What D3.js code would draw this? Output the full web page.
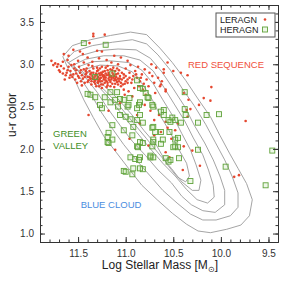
<!doctype html>
<html>
<head>
  <meta charset="utf8"/>
  <style>
    body { margin: 0; background: #fff; }
    text { font-family: "Liberation Sans", Arial, sans-serif; }
  </style>
</head>
<body>
  <svg width="286" height="283"></svg>
  <script src="https://d3js.org/d3.v7.min.js"></script>
  <script>
    // tick values
    var massTicks = [11.5, 11.0, 10.5, 10.0, 9.5];
    var colorTicks = [1.0, 1.5, 2.0, 2.5, 3.0, 3.5];

    // density contours, outermost first, [log mass, u-r]
    var contour1 = [[11.66,3.09],[11.56,3.22],[11.37,3.29],[11.16,3.34],[10.95,3.38],[10.78,3.35],[10.64,3.19],[10.51,3.02],[10.37,2.81],[10.24,2.59],[10.11,2.38],[10.01,2.16],[9.91,1.95],[9.82,1.77],[9.73,1.59],[9.67,1.40],[9.70,1.21],[9.79,1.10],[9.94,1.05],[10.11,1.01],[10.24,1.03],[10.36,1.11],[10.51,1.24],[10.67,1.40],[10.83,1.57],[10.97,1.77],[11.10,1.96],[11.23,2.15],[11.34,2.37],[11.44,2.58],[11.52,2.78],[11.61,2.96]];
    var contour2 = [[11.63,3.05],[11.54,3.15],[11.35,3.22],[11.14,3.26],[10.93,3.29],[10.78,3.24],[10.66,3.11],[10.53,2.93],[10.41,2.72],[10.28,2.51],[10.16,2.29],[10.06,2.08],[9.96,1.87],[9.88,1.67],[9.82,1.48],[9.82,1.31],[9.90,1.21],[10.05,1.16],[10.19,1.16],[10.32,1.23],[10.46,1.36],[10.61,1.51],[10.75,1.69],[10.89,1.87],[11.02,2.05],[11.14,2.24],[11.26,2.44],[11.36,2.64],[11.46,2.81],[11.56,2.96]];
    var contour3 = [[11.60,3.02],[11.48,3.10],[11.29,3.16],[11.08,3.18],[10.89,3.17],[10.74,3.07],[10.62,2.91],[10.50,2.71],[10.38,2.50],[10.28,2.28],[10.17,2.07],[10.08,1.87],[10.01,1.68],[9.96,1.51],[9.96,1.34],[10.06,1.25],[10.19,1.27],[10.31,1.34],[10.41,1.44],[10.52,1.60],[10.66,1.75],[10.79,1.92],[10.93,2.09],[11.06,2.28],[11.19,2.48],[11.30,2.67],[11.42,2.84],[11.52,2.94]];
    var contour4 = [[11.55,2.99],[11.42,3.06],[11.23,3.10],[11.02,3.10],[10.85,3.05],[10.71,2.92],[10.60,2.73],[10.49,2.53],[10.38,2.33],[10.29,2.13],[10.19,1.93],[10.13,1.75],[10.08,1.57],[10.07,1.43],[10.14,1.36],[10.25,1.40],[10.36,1.52],[10.48,1.68],[10.61,1.83],[10.74,2.00],[10.88,2.19],[11.02,2.38],[11.15,2.57],[11.28,2.73],[11.41,2.86],[11.51,2.94]];
    var contour5 = [[11.50,2.97],[11.35,3.03],[11.16,3.04],[10.97,3.02],[10.83,2.93],[10.71,2.77],[10.61,2.58],[10.50,2.38],[10.41,2.18],[10.32,1.99],[10.26,1.81],[10.21,1.63],[10.23,1.51],[10.30,1.51],[10.41,1.61],[10.52,1.77],[10.65,1.94],[10.78,2.12],[10.92,2.31],[11.06,2.50],[11.20,2.67],[11.33,2.81],[11.45,2.91]];
    var contour6 = [[11.43,2.94],[11.27,2.99],[11.08,2.98],[10.93,2.91],[10.82,2.76],[10.72,2.58],[10.63,2.38],[10.53,2.19],[10.45,2.01],[10.36,1.83],[10.33,1.68],[10.37,1.61],[10.46,1.67],[10.56,1.81],[10.68,2.05],[10.81,2.22],[10.94,2.41],[11.08,2.59],[11.22,2.74],[11.34,2.86]];

    // LERAGN (red dots)
    var leragn = [
      [11.32,2.86],[11.28,2.82],[11.25,2.88],[11.21,2.84],[11.18,2.90],[11.15,2.86],[11.12,2.81],[11.30,2.92],[11.35,2.83],[11.22,2.78],
      [11.19,2.93],[11.27,2.95],[11.10,2.88],[11.08,2.83],[11.14,2.77],[11.24,2.91],[11.33,2.79],[11.37,2.88],[11.20,2.87],[11.17,2.81],
      [11.29,2.85],[11.26,2.76],[11.11,2.92],[11.06,2.86],[11.38,2.92],[11.36,2.76],[11.23,2.82],[11.16,2.94],[11.13,2.84],[11.31,2.89],
      [11.09,2.79],[11.27,2.80],[11.34,2.95],[11.21,2.96],[11.04,2.90],[11.19,2.75],[11.12,2.73],[11.25,2.72],[11.31,2.74],[11.39,2.81],
      [11.05,2.78],[11.02,2.84],[11.28,2.89],[11.17,2.85],[11.23,2.87],[11.14,2.90],[11.35,2.86],[11.29,2.78],[11.07,2.93],[11.00,2.80],
      [11.40,2.85],[11.20,2.80],[11.26,2.84],[11.32,2.81],[11.10,2.85],[11.16,2.79],[11.24,2.86],[11.22,2.92],[11.08,2.89],[11.30,2.96],
      [11.18,2.83],[11.13,2.88],[11.36,2.90],[11.27,2.87],[11.21,2.89],[11.03,2.76],[11.33,2.84],[11.15,2.82],[11.11,2.77],[11.25,2.80],
      [11.30,2.83],[11.26,2.90],[11.22,2.85],[11.18,2.88],[11.14,2.93],[11.10,2.81],[11.06,2.83],[11.02,2.88],[11.34,2.90],[11.38,2.85],
      [11.42,2.92],[11.46,2.87],[11.40,2.79],[11.36,2.80],[11.32,2.77],[11.28,2.74],[11.24,2.76],[11.20,2.73],[11.16,2.74],[11.12,2.86],
      [11.08,2.76],[11.04,2.82],[11.00,2.86],[10.98,2.78],[10.96,2.84],[11.29,2.93],[11.25,2.97],[11.19,2.98],[11.13,2.96],[11.09,2.95],
      [11.35,2.98],[11.41,2.90],[11.47,2.93],[11.52,2.89],[11.54,2.95],[11.58,2.87],[11.61,2.93],[11.66,2.89],[11.71,3.00],[11.76,2.99],
      [11.23,2.84],[11.27,2.83],[11.31,2.87],[11.17,2.87],[11.21,2.81],[11.15,2.84],[11.33,2.82],[11.29,2.80],[11.19,2.78],[11.11,2.83],
      [11.07,2.80],[11.37,2.83],[11.43,2.85],[11.49,2.84],[11.05,2.74],[11.01,2.77],[10.93,2.82],[10.89,2.88],[10.84,2.84],[10.81,2.77],
      [11.42,2.88],[11.45,2.83],[11.48,2.90],[11.50,2.86],[11.44,2.94],[11.52,2.93],[11.55,2.88],[11.47,2.80],[11.58,2.92],[11.60,2.97],
      [11.62,2.90],[11.57,2.99],[11.65,2.95],[11.68,2.98],[11.70,2.93],[11.72,2.97],[11.74,3.01],[11.66,3.03],[11.63,2.87],[11.53,2.82],
      [11.49,2.97],[11.43,2.78],[11.41,2.95],[11.56,2.85],[11.46,2.75],[11.51,2.78],[11.59,2.84],[11.78,3.04],[11.61,3.05],[11.54,3.00],
      [11.69,2.91],[11.64,2.82],[11.39,2.99],[11.44,3.02],[11.50,3.04],
      [11.34,3.36],[11.34,3.33],[11.22,3.35],[11.38,3.25],[11.55,3.17],[11.30,3.16],[11.25,3.15],[11.45,3.12],[11.12,3.10],[11.05,3.08],
      [11.40,3.08],[11.20,3.05],[11.60,3.10],[11.48,3.15],[11.15,3.02],[10.98,3.04],[11.28,3.07],[11.65,3.12],[11.35,3.03],[11.08,3.00],
      [11.00,2.95],[10.96,2.90],[10.92,2.86],[10.98,2.82],[10.94,2.78],[10.90,2.92],[10.88,2.84],[10.85,2.80],[10.83,2.88],[10.80,2.94],
      [10.86,2.74],[10.78,2.82],[10.75,2.90],[10.72,2.86],[10.70,2.78],[10.68,2.96],[10.66,2.84],[10.64,2.74],[11.02,2.70],[10.97,2.68],
      [10.91,2.72],[10.82,2.70],[10.76,2.74],[10.73,3.00],[10.87,2.97],[10.95,2.99],[10.60,2.90],[10.62,2.80],[10.58,2.70],[10.79,2.64],
      [10.69,2.66],[10.93,2.62],[11.01,2.64],
      [10.56,3.02],[10.60,2.94],[10.50,2.92],[10.42,2.90],[10.35,2.87],[10.63,2.76],[10.58,2.68],[10.39,2.66],[10.34,2.58],[10.32,2.47],
      [10.36,2.46],[10.35,2.38],[10.23,2.52],[10.18,2.60],[10.11,2.57],[10.10,2.73],[9.74,2.33],[10.58,2.32],[10.56,2.25],[10.63,2.20],
      [10.48,2.22],[10.70,2.16],[10.39,2.03],[10.22,1.80],[9.86,1.67],[9.81,1.69],[10.40,1.75],[10.58,1.96],[10.52,2.12],[10.70,2.34],
      [10.80,2.52],[10.74,2.45],[10.88,2.40],[11.11,1.99],[11.39,2.40],[11.18,2.45],[10.96,2.12],[10.85,2.30],[10.65,2.40],[11.06,2.54],
      [10.76,2.04],[10.45,2.30],[10.30,1.98],[10.54,1.90]
    ];

    // HERAGN (green squares)
    var heragn = [
      [11.44,3.25],[11.21,3.23],[11.32,2.85],[11.14,2.89],[10.88,2.81],[10.85,2.72],[11.40,2.65],[11.37,2.64],[11.32,2.61],[11.16,2.67],
      [11.09,2.67],[11.22,2.61],[11.11,2.58],[11.02,2.58],[10.98,2.50],[10.85,2.55],[10.76,2.60],[10.79,2.66],[11.27,2.52],[11.16,2.55],
      [11.06,2.59],[10.96,2.60],[10.82,2.71],[10.77,2.61],[10.86,2.52],[10.72,2.52],[11.25,2.48],[11.08,2.50],[10.97,2.52],[11.06,2.40],
      [11.00,2.38],[10.95,2.35],[10.85,2.40],[10.88,2.34],[10.82,2.31],[10.63,2.44],[10.60,2.40],[10.72,2.25],[10.69,2.20],[10.63,2.20],
      [10.53,2.32],[10.48,2.34],[10.42,2.31],[10.37,2.40],[10.38,2.67],[10.54,2.20],[11.14,2.28],[11.02,2.22],[10.93,2.16],[11.18,2.19],
      [11.14,2.11],[11.19,2.08],[10.85,2.08],[10.82,2.07],[10.87,2.02],[10.71,2.08],[10.61,2.11],[10.48,2.11],[10.45,2.02],[10.24,2.31],
      [10.24,1.99],[10.95,1.90],[10.85,1.90],[10.86,1.87],[10.74,1.90],[10.71,1.90],[10.58,1.89],[10.53,1.87],[10.44,1.89],[10.92,1.77],
      [10.82,1.76],[11.02,1.74],[11.00,1.73],[10.32,1.62],[10.02,2.41],[10.15,2.40],[10.38,2.47],[10.51,2.37],[10.55,2.34],[10.60,2.46],
      [10.71,2.50],[10.71,2.26],[10.45,2.13],[10.71,2.11],[10.50,2.02],[10.55,1.85],[9.95,1.79],[9.53,1.57],[9.46,1.98],[10.72,2.03],
      [10.63,2.06],[10.48,2.03],[10.74,1.92],[10.92,2.26],[11.19,2.14],[10.88,2.48],[11.18,2.07],[10.90,1.88],[10.93,1.70],[10.85,1.77],
      [10.88,2.03]
    ];

    var contours = [contour1, contour2, contour3, contour4, contour5, contour6];

    var svg = d3.select('svg'),
        plotLeft = 40, plotRight = 278, plotTop = 5, plotBottom = 242;

    var x = d3.scaleLinear().domain([11.9, 9.4]).range([plotLeft, plotRight]);
    var y = d3.scaleLinear().domain([0.9, 3.7]).range([plotBottom, plotTop]);

    var red = '#e5472f', green = '#5fa23a', greenFill = 'rgba(140,200,100,0.15)';

    // contours
    var line = d3.line()
                 .x(function(d) { return x(d[0]); })
                 .y(function(d) { return y(d[1]); })
                 .curve(d3.curveLinearClosed);

    svg.append('g').selectAll('path')
       .data(contours)
       .join('path')
       .attr('d', line)
       .attr('fill', 'none')
       .attr('stroke', '#9a9a9a')
       .attr('stroke-width', 0.9);

    // red dots
    svg.append('g').selectAll('circle')
       .data(leragn)
       .join('circle')
       .attr('cx', function(d) { return x(d[0]); })
       .attr('cy', function(d) { return y(d[1]); })
       .attr('r', 1.3)
       .attr('fill', red);

    // green squares
    var sq = 5;
    svg.append('g').selectAll('rect')
       .data(heragn)
       .join('rect')
       .attr('x', function(d) { return x(d[0]) - sq / 2; })
       .attr('y', function(d) { return y(d[1]) - sq / 2; })
       .attr('width', sq)
       .attr('height', sq)
       .attr('fill', greenFill)
       .attr('stroke', green)
       .attr('stroke-width', 0.9);

    // axes: major + minor ticks on all four sides, pointing inward
    var minorX = d3.range(94, 120).map(function(v) { return v / 10; });
    var minorY = d3.range(9, 38).map(function(v) { return v / 10; });

    function styleAxis(g) {
      g.selectAll('path').attr('stroke', '#333');
      g.selectAll('line').attr('stroke', '#333');
      g.selectAll('text').attr('fill', '#333').style('font-size', '10px')
       .style('font-family', '"Liberation Sans", Arial, sans-serif');
    }

    svg.append('g').attr('transform', 'translate(0,' + plotBottom + ')')
       .call(d3.axisBottom(x).tickValues(minorX).tickSize(-2.5).tickSizeOuter(0).tickFormat(''))
       .call(styleAxis);
    svg.append('g').attr('transform', 'translate(0,' + plotBottom + ')')
       .call(d3.axisBottom(x).tickValues(massTicks).tickSize(-5).tickSizeOuter(0)
             .tickPadding(8).tickFormat(d3.format('.1f')))
       .call(styleAxis);
    svg.append('g').attr('transform', 'translate(0,' + plotTop + ')')
       .call(d3.axisTop(x).tickValues(minorX).tickSize(-2.5).tickSizeOuter(0).tickFormat(''))
       .call(styleAxis);
    svg.append('g').attr('transform', 'translate(0,' + plotTop + ')')
       .call(d3.axisTop(x).tickValues(massTicks).tickSize(-5).tickSizeOuter(0).tickFormat(''))
       .call(styleAxis);

    svg.append('g').attr('transform', 'translate(' + plotLeft + ',0)')
       .call(d3.axisLeft(y).tickValues(minorY).tickSize(-2.5).tickSizeOuter(0).tickFormat(''))
       .call(styleAxis);
    svg.append('g').attr('transform', 'translate(' + plotLeft + ',0)')
       .call(d3.axisLeft(y).tickValues(colorTicks).tickSize(-5).tickSizeOuter(0)
             .tickPadding(6).tickFormat(d3.format('.1f')))
       .call(styleAxis);
    svg.append('g').attr('transform', 'translate(' + plotRight + ',0)')
       .call(d3.axisRight(y).tickValues(minorY).tickSize(-2.5).tickSizeOuter(0).tickFormat(''))
       .call(styleAxis);
    svg.append('g').attr('transform', 'translate(' + plotRight + ',0)')
       .call(d3.axisRight(y).tickValues(colorTicks).tickSize(-5).tickSizeOuter(0).tickFormat(''))
       .call(styleAxis);

    // axis titles
    var xl = svg.append('text')
       .attr('x', 160).attr('y', 269)
       .attr('text-anchor', 'middle')
       .attr('fill', '#222')
       .style('font-size', '12px')
       .text('Log Stellar Mass [M');
    xl.append('tspan').attr('dy', 3).style('font-size', '8px').text('⊙');
    xl.append('tspan').attr('dy', -3).text(']');

    svg.append('text')
       .attr('transform', 'translate(16,115) rotate(-90)')
       .attr('text-anchor', 'middle')
       .attr('fill', '#222')
       .style('font-size', '12px')
       .text('u-r color');

    // region labels
    svg.append('text').attr('x', 226).attr('y', 68).attr('text-anchor', 'middle')
       .attr('fill', '#f0503c').style('font-size', '9.5px').text('RED SEQUENCE');
    svg.append('text').attr('x', 53).attr('y', 137)
       .attr('fill', '#3f8f1f').style('font-size', '9.5px').text('GREEN');
    svg.append('text').attr('x', 53).attr('y', 149)
       .attr('fill', '#3f8f1f').style('font-size', '9.5px').text('VALLEY');
    svg.append('text').attr('x', 111).attr('y', 208).attr('text-anchor', 'middle')
       .attr('fill', '#4a8de0').style('font-size', '9.5px').text('BLUE CLOUD');

    // legend
    var lg = svg.append('g');
    lg.append('rect').attr('x', 216).attr('y', 13).attr('width', 59).attr('height', 24)
      .attr('fill', '#fff').attr('stroke', '#555').attr('stroke-width', 1);
    lg.append('text').attr('x', 220).attr('y', 23).attr('fill', '#222')
      .style('font-size', '9px').text('LERAGN');
    lg.append('text').attr('x', 220).attr('y', 33).attr('fill', '#222')
      .style('font-size', '9px').text('HERAGN');
    lg.append('circle').attr('cx', 265).attr('cy', 19.5).attr('r', 1.3).attr('fill', red);
    lg.append('rect').attr('x', 262.5).attr('y', 27).attr('width', sq).attr('height', sq)
      .attr('fill', greenFill).attr('stroke', green).attr('stroke-width', 0.9);
  </script>
</body>
</html>
